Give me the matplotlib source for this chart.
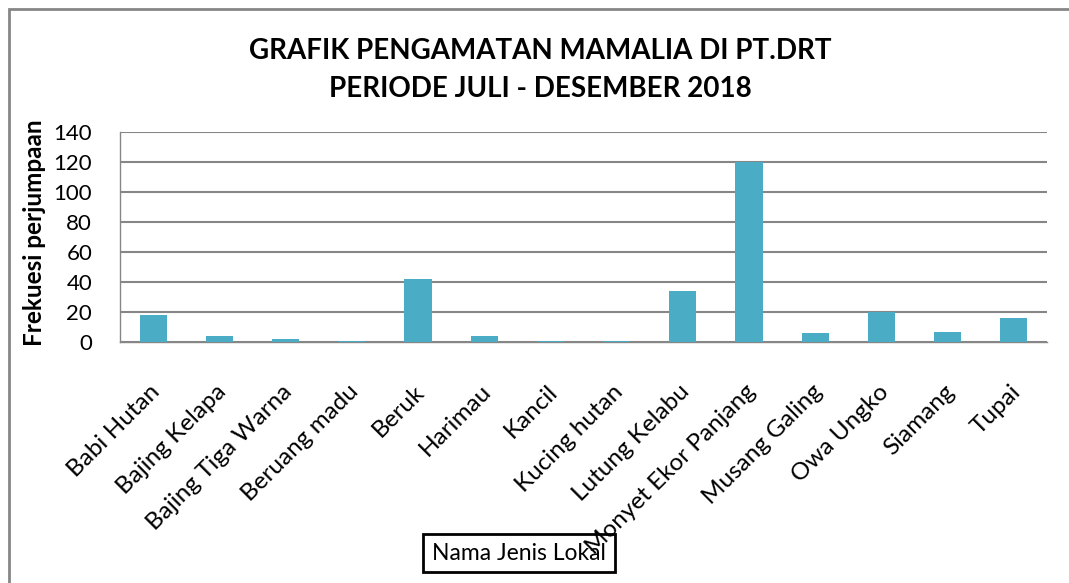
import matplotlib
matplotlib.use("Agg")
import matplotlib.pyplot as plt
from matplotlib.patches import Rectangle

categories = ["Babi Hutan", "Bajing Kelapa", "Bajing Tiga Warna", "Beruang madu", "Beruk",
              "Harimau", "Kancil", "Kucing hutan", "Lutung Kelabu", "Monyet Ekor Panjang",
              "Musang Galing", "Owa Ungko", "Siamang", "Tupai"]
values = [18, 4, 2, 1, 42, 4, 1, 1, 34, 120, 6, 20, 7, 16]
yticks = [0, 20, 40, 60, 80, 100, 120, 140]

title = "GRAFIK PENGAMATAN MAMALIA DI PT.DRT\nPERIODE JULI - DESEMBER 2018"
ylabel = "Frekuesi perjumpaan"
xlabel = "Nama Jenis Lokal"

plt.rcParams['font.family'] = ['Lato', 'DejaVu Sans']

W, H = 1069, 583
fig = plt.figure(figsize=(W / 100, H / 100), dpi=100)
ax = fig.add_axes([120 / W, 1 - 342 / H, (1047 - 120) / W, (342 - 132) / H])

grid_c = "#868686"
x = list(range(len(categories)))
ax.bar(x, values, width=0.41, color="#4BACC6", zorder=3)
ax.set_xlim(-0.5, len(categories) - 0.5)
ax.set_ylim(0, 140)
ax.set_yticks(yticks)
ax.yaxis.grid(True, color=grid_c, linewidth=1.5, zorder=0)
ax.set_axisbelow(True)
for s in ["top", "right"]:
    ax.spines[s].set_visible(False)
for s in ["left", "bottom"]:
    ax.spines[s].set_color(grid_c)
    ax.spines[s].set_linewidth(1.0)
ax.tick_params(axis="y", length=0, pad=20, labelsize=16, labelcolor="black")
ax.tick_params(axis="x", length=0, pad=28)
ax.set_xticks(x)
ax.set_xticklabels(categories, rotation=45, ha="right", va="top",
                   rotation_mode="anchor", fontsize=17.5)
for lbl in ax.get_xticklabels():
    lbl.set_transform(lbl.get_transform() + matplotlib.transforms.ScaledTranslation(-4 / 100, 0, fig.dpi_scale_trans))

fig.text(540 / W, 1 - 70 / H, title, ha="center", va="center", fontsize=20,
         fontweight="bold", linespacing=1.55)
fig.text(35 / W, 1 - 233 / H, ylabel, rotation=90, ha="center", va="center",
         fontsize=17.5, fontweight="bold")
fig.text(519 / W, 1 - 553 / H, xlabel, ha="center", va="center", fontsize=16.5,
         zorder=-1,
         bbox=dict(boxstyle="square,pad=0.38", facecolor="white", edgecolor="black",
                   linewidth=2))

fig.patches.append(Rectangle((9 / W, -0.1), 1.2, 1 - 9 / H + 0.1,
                             transform=fig.transFigure, fill=False,
                             edgecolor=grid_c, linewidth=2))

fig.savefig("out.png", dpi=100)
